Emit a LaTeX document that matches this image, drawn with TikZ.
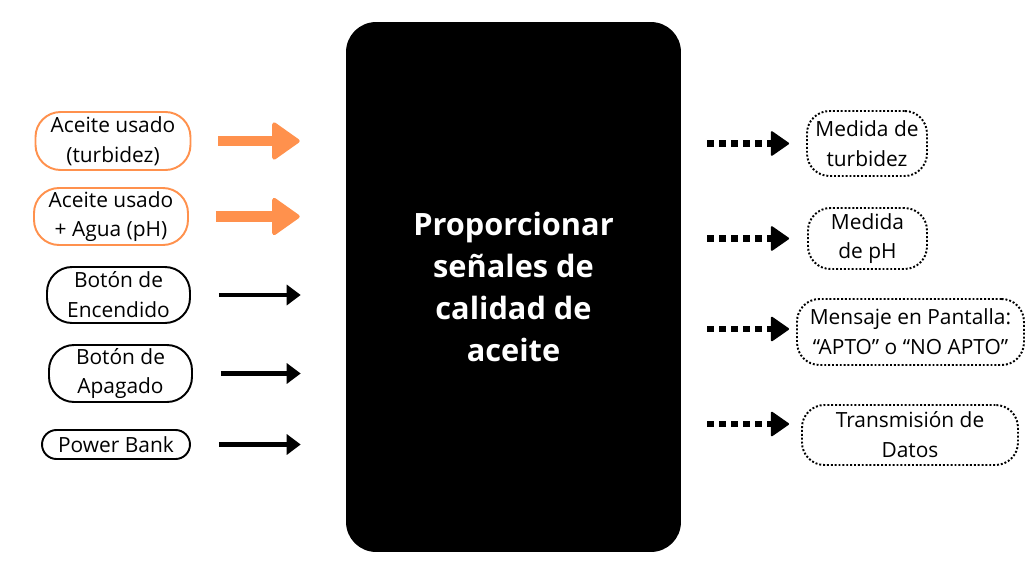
\documentclass[tikz,border=0pt]{standalone}
\usepackage{fontspec}
\setmainfont{Open Sans}
\usepackage{tikz}
\usetikzlibrary{arrows.meta,positioning}
\definecolor{oilorange}{HTML}{FF914D}
\tikzset{
  inbox/.style={draw, line width=1.1pt, rounded corners=0.5cm, align=center, inner sep=0pt, font=\fontsize{11.9}{17}\selectfont},
  oilbox/.style={inbox, draw=oilorange},
  outbox/.style={draw, line width=1.1pt, dash pattern=on 1.1pt off 1.1pt, rounded corners=0.45cm, align=center, inner sep=0pt, font=\fontsize{11.9}{17}\selectfont},
  corebox/.style={fill=black, rounded corners=0.6cm, minimum width=6.7cm, minimum height=10.6cm, text=white, align=center, font=\bfseries\fontsize{17.5}{24}\selectfont},
  oilarrow/.style={-{Triangle[length=0.58cm,width=0.8cm,round,line width=0.08cm]}, line width=0.21cm, draw=oilorange, fill=oilorange},
  plainarrow/.style={-{Triangle[length=0.28cm,width=0.4cm]}, line width=0.085cm},
  dotarrow/.style={-{Triangle[length=0.38cm,width=0.52cm,round,line width=0.04cm]}, line width=0.13cm, dash pattern=on 0.14cm off 0.1cm},
}

\begin{document}
\begin{tikzpicture}[x=0.02cm, y=-0.02cm]
  \useasboundingbox (0,0) rectangle (1031,561);
  \node[corebox] (core) at (513.5,287) {Proporcionar\\señales de\\calidad de\\aceite};

  % entradas
  \node[oilbox, minimum width=3.1cm, minimum height=1.16cm] (in1) at (113,141) {Aceite usado\\(turbidez)};
  \node[oilbox, minimum width=3.08cm, minimum height=1.14cm] (in2) at (111,216.5) {Aceite usado\\+ Agua (pH)};
  \node[inbox, minimum width=2.86cm, minimum height=1.12cm] (in3) at (118.5,295) {Botón de\\Encendido};
  \node[inbox, minimum width=2.86cm, minimum height=1.14cm] (in4) at (120.5,373.5) {Botón de\\Apagado};
  \node[inbox, rounded corners=0.29cm, minimum width=2.96cm, minimum height=0.58cm] (in5) at (116,444.5) {Power Bank};

  % salidas
  \node[outbox, minimum width=2.4cm, minimum height=1.3cm] (out1) at (867,143.5) {Medida de\\turbidez};
  \node[outbox, minimum width=2.38cm, minimum height=1.22cm] (out2) at (867.5,238.5) {Medida\\de pH};
  \node[outbox, minimum width=4.54cm, minimum height=1.32cm] (out3) at (910.5,332) {Mensaje en Pantalla:\\“APTO” o “NO APTO”};
  \node[outbox, minimum width=4.32cm, minimum height=1.2cm] (out4) at (910,435) {Transmisión de\\Datos};

  \foreach \a in {in1, in2}
    \draw[oilarrow, shorten <=0.54cm, shorten >=0.92cm] (\a.east) -- (\a.east -| core.west);
  \foreach \a in {in3, in4, in5}
    \draw[plainarrow, shorten <=0.56cm, shorten >=0.9cm] (\a.east) -- (\a.east -| core.west);
  \foreach \b/\s/\d in {out1/0.34cm/0cm, out2/0.36cm/0cm, out3/0.14cm/0.06cm, out4/0.24cm/0.22cm}
    \draw[dotarrow, shorten <=0.52cm, shorten >=\s] ([yshift=\d]core.east |- \b.west) -- ([yshift=\d]\b.west);
\end{tikzpicture}
\end{document}
